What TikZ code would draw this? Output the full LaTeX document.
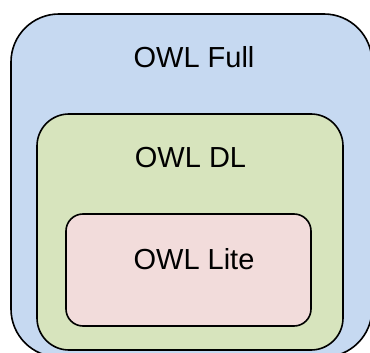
\documentclass[tikz,border=0pt]{standalone}
\usepackage{fontspec}
\setmainfont{Liberation Sans}
\usepackage{xcolor}
\definecolor{fullblue}{HTML}{C6D9F1}
\definecolor{dlgreen}{HTML}{D7E4BD}
\definecolor{litepink}{HTML}{F2DCDB}
\tikzset{
	owlbox/.style={draw=black, line width=1.6pt, rectangle, inner sep=0pt},
	owllabel/.style={font=\fontsize{29}{35}\selectfont, inner sep=0pt}
}

\begin{document}
\begin{tikzpicture}[x=1pt,y=-1pt]
	\useasboundingbox (0,0) rectangle (370,353);
	\clip (0,0) rectangle (370,353);
	% nested sublanguages
	\node[owlbox, fill=fullblue, rounded corners=48pt, minimum width=361pt, minimum height=343pt] (full) at (191.5,185.5) {};
	\node[owlbox, fill=dlgreen, rounded corners=32pt, minimum width=306pt, minimum height=236pt] (dl) at (190,232) {};
	\node[owlbox, fill=litepink, rounded corners=17pt, minimum width=245pt, minimum height=112pt] (lite) at (188.5,270) {};
	% names
	\node[owllabel] (fulltext) at (194,57) {OWL Full};
	\node[owllabel] (dltext) at (190.5,157.5) {OWL DL};
	\node[owllabel] (litetext) at (194,259.5) {OWL Lite};
\end{tikzpicture}
\end{document}
